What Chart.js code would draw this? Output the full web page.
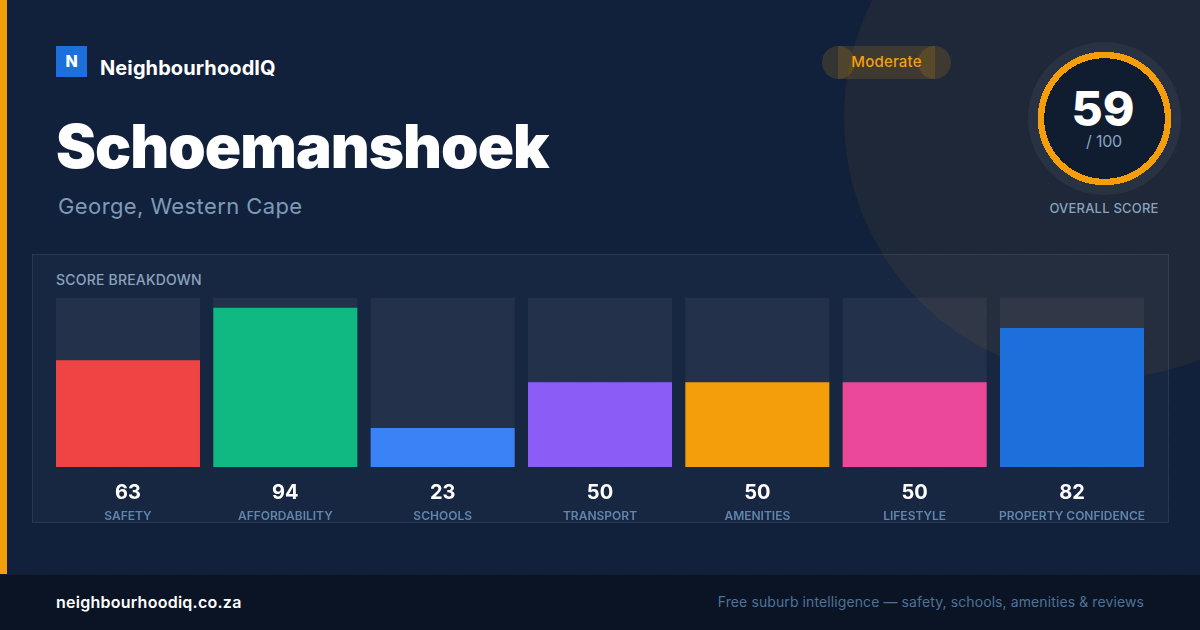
<!DOCTYPE html>
<html>
<head>
<meta charset="utf-8">
<title>Schoemanshoek</title>
<script src="https://cdn.jsdelivr.net/npm/chart.js@4"></script>
<style>
  html, body { margin: 0; padding: 0; }
  body { width: 1200px; height: 630px; overflow: hidden; position: relative; background: #11213b; font-family: Inter, sans-serif; }
  .abs { position: absolute; white-space: nowrap; }
  #glow { left: 844px; top: -142px; width: 520px; height: 520px; border-radius: 50%; background: rgba(245,158,11,0.06); }
  #dots { left: 0; top: 0; width: 1200px; height: 630px;
    background-image: radial-gradient(circle at 24px 24px, rgba(255,255,255,0.035) 1.2px, transparent 1.6px);
    background-size: 32px 32px; }
  #strip { left: 0; top: 0; width: 7px; height: 574px; background: #f59e0b; }
  #logo { left: 56px; top: 46px; width: 31px; height: 31px; background: #1d6fdc; color: #fff; font-weight: 800; font-size: 16px; line-height: 30px; text-align: center; }
  #brand { left: 100px; top: 56px; color: #fff; font-size: 20px; font-weight: 700; line-height: 24px; letter-spacing: 0.1px; }
  #title { left: 56px; top: 110px; color: #fff; font-size: 60px; font-weight: 900; line-height: 72px; letter-spacing: -0.95px; }
  #place { left: 58px; top: 192px; color: #7f9ab8; font-size: 22px; line-height: 28px; letter-spacing: 0.4px; }
  .pill { background: rgba(245,158,11,0.15); top: 46px; height: 33px; }
  #pillText { left: 838px; width: 97px; top: 46px; height: 33px; line-height: 31px; text-align: center; color: #f59e0b; font-size: 15px; font-weight: 500; letter-spacing: 0.2px; }
  #ring { left: 1028px; top: 42px; }
  #scoreNum { left: 1003px; width: 200px; top: 80px; text-align: center; color: #fff; font-size: 48px; font-weight: 800; line-height: 58px; }
  #scoreOf { left: 1004px; width: 200px; top: 131px; text-align: center; color: #8aa3bf; font-size: 16px; line-height: 20px; letter-spacing: -0.2px; }
  #scoreCap { left: 1004px; width: 200px; top: 199px; text-align: center; color: #8aa3bf; font-size: 13px; font-weight: 500; line-height: 18px; letter-spacing: 0.2px; }
  #panel { left: 32px; top: 254px; width: 1135px; height: 267px; background: rgba(255,255,255,0.03); border: 1px solid rgba(255,255,255,0.08); }
  #panelTitle { left: 56px; top: 271px; color: #8aa3bf; font-size: 14px; font-weight: 500; line-height: 18px; letter-spacing: 0.2px; }
  #chart { position: absolute; left: 0; top: 0; }
  #footer { left: 0; top: 574px; width: 1200px; height: 56px; background: #0a1424; border-top: 1px solid rgba(255,255,255,0.05); box-sizing: border-box; }
  #site { left: 56px; top: 592px; color: #fff; font-size: 16px; font-weight: 600; line-height: 20px; letter-spacing: 0.25px; }
  #tag { right: 56px; top: 592px; color: #4f7299; font-size: 14px; line-height: 20px; letter-spacing: 0.1px; }
</style>
</head>
<body>
<div class="abs" id="glow"></div>
<div class="abs" id="dots"></div>
<div class="abs" id="strip"></div>
<div class="abs" id="logo">N</div>
<div class="abs" id="brand">NeighbourhoodIQ</div>
<div class="abs" id="title">Schoemanshoek</div>
<div class="abs" id="place">George, Western Cape</div>

<!-- badge: the end caps really do overlap the middle -->
<div class="abs pill" style="left:822px;width:33px;border-radius:50%"></div>
<div class="abs pill" style="left:838px;width:97px"></div>
<div class="abs pill" style="left:918px;width:33px;border-radius:50%"></div>
<div class="abs" id="pillText">Moderate</div>

<svg class="abs" id="ring" width="153" height="153" viewBox="0 0 153 153">
  <circle cx="76.5" cy="76.5" r="76.5" fill="rgba(255,255,255,0.05)"></circle>
  <circle cx="76.5" cy="76.5" r="63.5" fill="#101c30" stroke="#f59e0b" stroke-width="6.5" shape-rendering="crispEdges"></circle>
</svg>
<div class="abs" id="scoreNum"></div>
<div class="abs" id="scoreOf"></div>
<div class="abs" id="scoreCap">OVERALL SCORE</div>

<div class="abs" id="panel"></div>
<div class="abs" id="panelTitle">SCORE BREAKDOWN</div>
<canvas id="chart" width="1200" height="630"></canvas>

<div class="abs" id="footer"></div>
<div class="abs" id="site">neighbourhoodiq.co.za</div>
<div class="abs" id="tag">Free suburb intelligence — safety, schools, amenities &amp; reviews</div>

<script>
// Chart data
const categories = ['SAFETY', 'AFFORDABILITY', 'SCHOOLS', 'TRANSPORT', 'AMENITIES', 'LIFESTYLE', 'PROPERTY CONFIDENCE'];
const scores = [63, 94, 23, 50, 50, 50, 82];
const trackValues = [100, 100, 100, 100, 100, 100, 100];
const barColors = ['#ef4444', '#10b981', '#3b82f6', '#8b5cf6', '#f59e0b', '#ec4899', '#1d6fdc'];
const overallScore = 59;
const overallMax = 100;

document.getElementById('scoreNum').textContent = overallScore;
document.getElementById('scoreOf').textContent = '/ ' + overallMax;

// Fixed axis heights so the bars end on the same line as the reference
function fixHeight(h) {
    return function(scale) { scale.height = h; };
}

new Chart(document.getElementById('chart'), {
    type: 'bar',
    data: {
        labels: categories,
        datasets: [
            {
                label: 'Score',
                data: scores,
                backgroundColor: barColors,
                order: 1
            },
            {
                label: 'Track',
                data: trackValues,
                backgroundColor: 'rgba(255,255,255,0.05)',
                order: 2
            }
        ]
    },
    options: {
        responsive: false,
        animation: false,
        devicePixelRatio: 1,
        layout: { padding: { left: 49.33, right: 49.33, top: 297.5, bottom: 107 } },
        datasets: { bar: { grouped: false, categoryPercentage: 1, barPercentage: 144 / 157.33, borderWidth: 0 } },
        plugins: { legend: { display: false }, tooltip: { enabled: false } },
        scales: {
            y: { display: false, min: 0, max: 100 },
            // scores sit directly under the bars, names under those
            x: {
                position: 'bottom',
                weight: 1,
                afterFit: fixHeight(36),
                grid: { display: false, drawTicks: false },
                border: { display: false },
                ticks: {
                    autoSkip: false,
                    maxRotation: 0,
                    padding: 14,
                    color: '#ffffff',
                    font: { family: 'Inter', size: 20, weight: '700' },
                    callback: function(value, index) { return scores[index]; }
                }
            },
            x2: {
                type: 'category',
                position: 'bottom',
                weight: 2,
                labels: categories,
                afterFit: fixHeight(20),
                grid: { display: false, drawTicks: false },
                border: { display: false },
                ticks: {
                    autoSkip: false,
                    maxRotation: 0,
                    padding: 6,
                    color: '#6085ad',
                    font: { family: 'Inter', size: 12, weight: '600' }
                }
            }
        }
    }
});
</script>
</body>
</html>
